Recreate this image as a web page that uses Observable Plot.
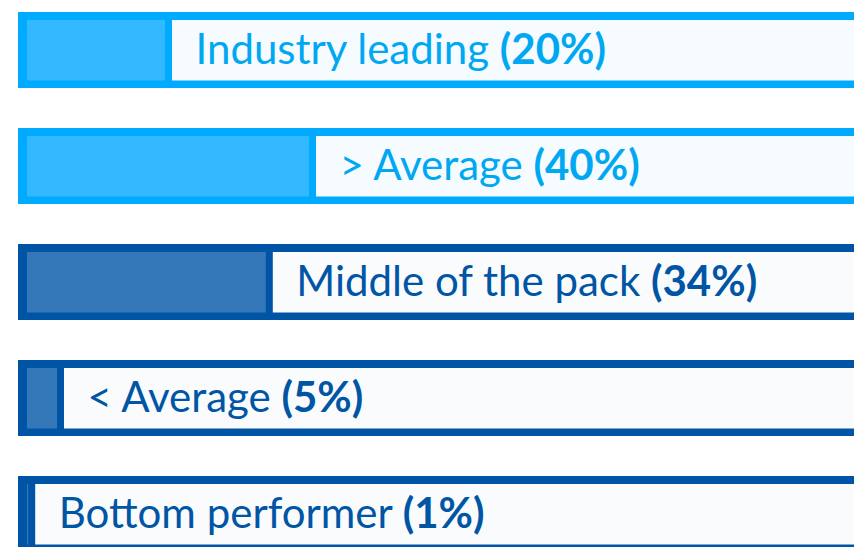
<!DOCTYPE html>
<html>
<head>
<meta charset="utf-8">
<script src="https://cdn.jsdelivr.net/npm/d3@7"></script>
<script src="https://cdn.jsdelivr.net/npm/@observablehq/plot@0.6"></script>
<style>
  html, body { margin: 0; padding: 0; background: #ffffff; }
  #chart svg { display: block; }
</style>
</head>
<body>
<div id="chart"></div>
<script>
// ---- Data ----
const categories = ["Industry leading", "> Average", "Middle of the pack", "< Average", "Bottom performer"];
const shares = [20, 40, 34, 5, 1];                 // percent
const groups = ["upper", "upper", "lower", "lower", "lower"];

const data = categories.map((c, i) => ({label: c, share: shares[i], group: groups[i]}));

// ---- Styles ----
const borderColor = {upper: "#00aaff", lower: "#0054a6"};
const fillColor   = {upper: "#33b9ff", lower: "#3478b9"};
const paneColor   = {upper: "#f6fbff", lower: "#f9fbfd"};
const textColor   = {upper: "#00a8f2", lower: "#0055a4"};
const font = "Lato, 'Open Sans', sans-serif";

const chart = Plot.plot({
  width: 854,
  height: 547,
  margin: 0,
  x: {domain: [0, 100], range: [21, 741], axis: null},
  y: {type: "band", domain: categories, range: [12, 553], paddingInner: 0.344, paddingOuter: 0, axis: null},
  style: {fontFamily: font, background: "#ffffff"},
  marks: [
    // outer frame (border colour)
    Plot.barX(data, {y: "label", x1: 0, x2: 130, fill: d => borderColor[d.group], insetLeft: -3}),
    // filled share
    Plot.barX(data, {y: "label", x1: 0, x2: "share", fill: d => fillColor[d.group],
      insetLeft: 6, insetTop: 8, insetBottom: 7.5}),
    // remaining light pane
    Plot.barX(data, {y: "label", x1: "share", x2: 130, fill: d => paneColor[d.group],
      insetLeft: 7, insetTop: 8, insetBottom: 7.5}),
    // labels
    Plot.text(data, {y: "label", x: "share", text: d => `${d.label} (${d.share}%)`,
      textAnchor: "start", dx: 30, dy: 0, fontSize: 42,
      fill: d => textColor[d.group]})
  ]
});

// split each label into a regular name and a bold percentage
const texts = d3.select(chart).selectAll('g[aria-label="text"] text');
texts.each(function(_, i) {
  const d = data[i];
  const t = d3.select(this);
  t.text(null);
  t.append("tspan").text(d.label + " ");
  t.append("tspan").attr("font-weight", "bold").text(`(${d.share}%)`);
});

document.getElementById("chart").append(chart);
</script>
</body>
</html>
